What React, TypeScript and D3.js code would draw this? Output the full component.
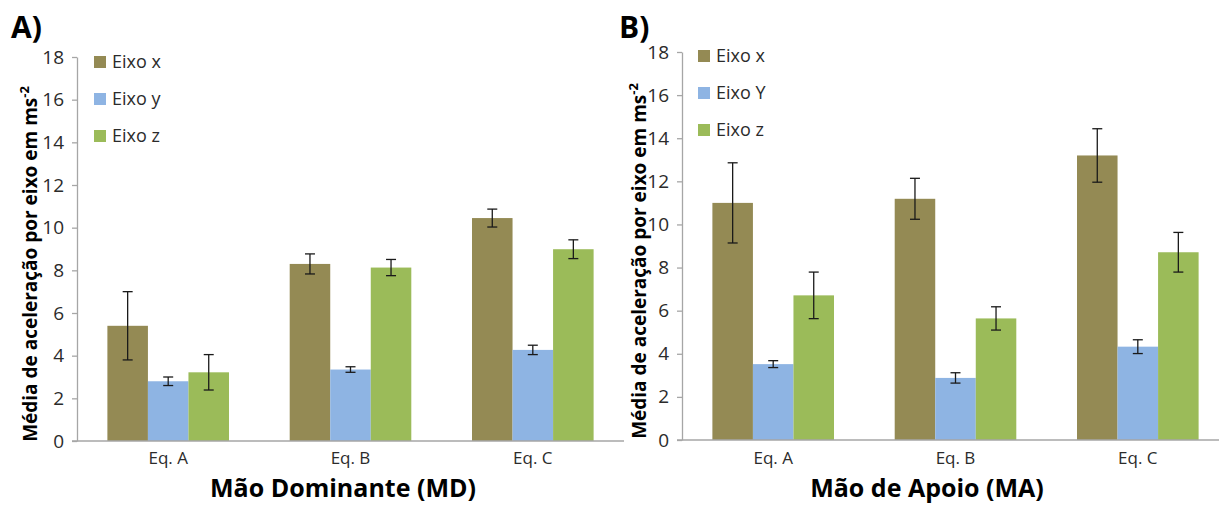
import React, { useEffect, useRef } from 'react';
import * as d3 from 'd3';

const categories = ['Eq. A', 'Eq. B', 'Eq. C'];
const seriesMD = ['Eixo x', 'Eixo y', 'Eixo z'];
const seriesMA = ['Eixo x', 'Eixo Y', 'Eixo z'];
const colors = ['#948a54', '#8eb4e3', '#9bbb59'];
const yTicks = [0, 2, 4, 6, 8, 10, 12, 14, 16, 18];

// Mão Dominante (MD)
const mdX = [5.4, 8.3, 10.45];
const mdXErr = [1.6, 0.47, 0.42];
const mdY = [2.8, 3.35, 4.27];
const mdYErr = [0.2, 0.13, 0.22];
const mdZ = [3.22, 8.13, 8.99];
const mdZErr = [0.83, 0.38, 0.44];

// Mão de Apoio (MA)
const maX = [11.0, 11.19, 13.2];
const maXErr = [1.86, 0.95, 1.24];
const maY = [3.52, 2.88, 4.33];
const maYErr = [0.16, 0.24, 0.32];
const maZ = [6.71, 5.64, 8.71];
const maZErr = [1.08, 0.54, 0.92];

const FONT = '"Open Sans", sans-serif';

type PanelCfg = {
    letter: string;
    letterX: number;
    axisX: number;
    yTop: number;
    yBottom: number;
    titleX: number;
    xTitle: string;
    xTitleX: number;
    legendX: number;
    legendY: number;
    legendStep: number;
    names: string[];
    values: number[][];
    errors: number[][];
};

const panels: PanelCfg[] = [
    {
        letter: 'A)', letterX: 11, axisX: 77, yTop: 57, yBottom: 441, titleX: 37,
        xTitle: 'Mão Dominante (MD)', xTitleX: 343, legendX: 94, legendY: 62, legendStep: 37,
        names: seriesMD, values: [mdX, mdY, mdZ], errors: [mdXErr, mdYErr, mdZErr],
    },
    {
        letter: 'B)', letterX: 619, axisX: 682, yTop: 52, yBottom: 440, titleX: 646,
        xTitle: 'Mão de Apoio (MA)', xTitleX: 927, legendX: 698, legendY: 56, legendStep: 37,
        names: seriesMA, values: [maX, maY, maZ], errors: [maXErr, maYErr, maZErr],
    },
];

const App = () => {
    const svgRef = useRef<SVGSVGElement>(null);

    useEffect(() => {
        const svg = d3.select(svgRef.current);
        svg.selectAll('*').remove();

        panels.forEach(p => {
            const g = svg.append('g');

            const x = d3.scaleBand<string>()
                .domain(categories)
                .range([p.axisX, p.axisX + 547])
                .paddingInner(0.333)
                .paddingOuter(0.1667);

            const xs = d3.scaleBand<number>()
                .domain([0, 1, 2])
                .range([0, x.bandwidth()]);

            const y = d3.scaleLinear()
                .domain([0, 18])
                .range([p.yBottom, p.yTop]);

            // bars
            p.values.forEach((vals, si) => {
                g.append('g')
                    .selectAll('rect')
                    .data(vals)
                    .join('rect')
                    .attr('x', (d, i) => (x(categories[i]) as number) + (xs(si) as number))
                    .attr('y', d => y(d))
                    .attr('width', xs.bandwidth())
                    .attr('height', d => y(0) - y(d))
                    .attr('fill', colors[si]);
            });

            // error bars
            p.values.forEach((vals, si) => {
                const eg = g.append('g').attr('stroke', '#1a1a1a').attr('stroke-width', 1.3);
                vals.forEach((v, i) => {
                    const cx = (x(categories[i]) as number) + (xs(si) as number) + xs.bandwidth() / 2;
                    const e = p.errors[si][i];
                    eg.append('line').attr('x1', cx).attr('x2', cx).attr('y1', y(v - e)).attr('y2', y(v + e));
                    eg.append('line').attr('x1', cx - 5).attr('x2', cx + 5).attr('y1', y(v - e)).attr('y2', y(v - e));
                    eg.append('line').attr('x1', cx - 5).attr('x2', cx + 5).attr('y1', y(v + e)).attr('y2', y(v + e));
                });
            });

            // y axis
            const ya = g.append('g')
                .attr('transform', `translate(${p.axisX},0)`)
                .call(d3.axisLeft(y).tickValues(yTicks).tickSize(5).tickSizeOuter(0).tickPadding(8));
            ya.select('.domain').attr('stroke', '#a6a6a6').attr('stroke-width', 1.3);
            ya.selectAll('.tick line').attr('stroke', '#a6a6a6').attr('stroke-width', 1.3);
            ya.selectAll('.tick text')
                .attr('font-family', FONT)
                .attr('font-size', 19)
                .attr('fill', '#2b2b2b');

            // x baseline
            g.append('line')
                .attr('x1', p.axisX - 5)
                .attr('x2', p.axisX + 547)
                .attr('y1', y(0))
                .attr('y2', y(0))
                .attr('stroke', '#a6a6a6')
                .attr('stroke-width', 1.3);

            // category labels
            g.append('g')
                .selectAll('text')
                .data(categories)
                .join('text')
                .attr('x', d => (x(d) as number) + x.bandwidth() / 2)
                .attr('y', 464)
                .attr('text-anchor', 'middle')
                .attr('font-family', FONT)
                .attr('font-size', 17)
                .attr('fill', '#2b2b2b')
                .text(d => d);

            // x title
            g.append('text')
                .attr('x', p.xTitleX)
                .attr('y', 497)
                .attr('text-anchor', 'middle')
                .attr('font-family', FONT)
                .attr('font-weight', 'bold')
                .attr('font-size', 25)
                .attr('fill', '#000')
                .text(p.xTitle);

            // y title
            const yt = g.append('text')
                .attr('transform', `translate(${p.titleX},${(p.yTop + p.yBottom) / 2 + 15}) rotate(-90)`)
                .attr('text-anchor', 'middle')
                .attr('font-family', FONT)
                .attr('font-weight', 'bold')
                .attr('font-size', 19)
                .attr('fill', '#000');
            yt.append('tspan').text('Média de aceleração por eixo em ms');
            yt.append('tspan').attr('dy', -8).attr('font-size', 13).text('-2');

            // panel letter
            g.append('text')
                .attr('x', p.letterX)
                .attr('y', 38)
                .attr('font-family', FONT)
                .attr('font-weight', 'bold')
                .attr('font-size', 30)
                .attr('fill', '#000')
                .text(p.letter);

            // legend
            const lg = g.append('g');
            lg.selectAll('rect')
                .data(p.names)
                .join('rect')
                .attr('x', p.legendX)
                .attr('y', (d, i) => p.legendY + i * p.legendStep - 6)
                .attr('width', 12)
                .attr('height', 12)
                .attr('fill', (d, i) => colors[i]);
            lg.selectAll('text')
                .data(p.names)
                .join('text')
                .attr('x', p.legendX + 18)
                .attr('y', (d, i) => p.legendY + i * p.legendStep)
                .attr('dy', '0.35em')
                .attr('font-family', FONT)
                .attr('font-size', 18)
                .attr('fill', '#2b2b2b')
                .text(d => d);
        });
    }, []);

    return (
        <svg
            ref={svgRef}
            width={1219}
            height={505}
            style={{ position: 'absolute', left: 0, top: 0, background: '#fff' }}
        ></svg>
    );
};

export default App;
